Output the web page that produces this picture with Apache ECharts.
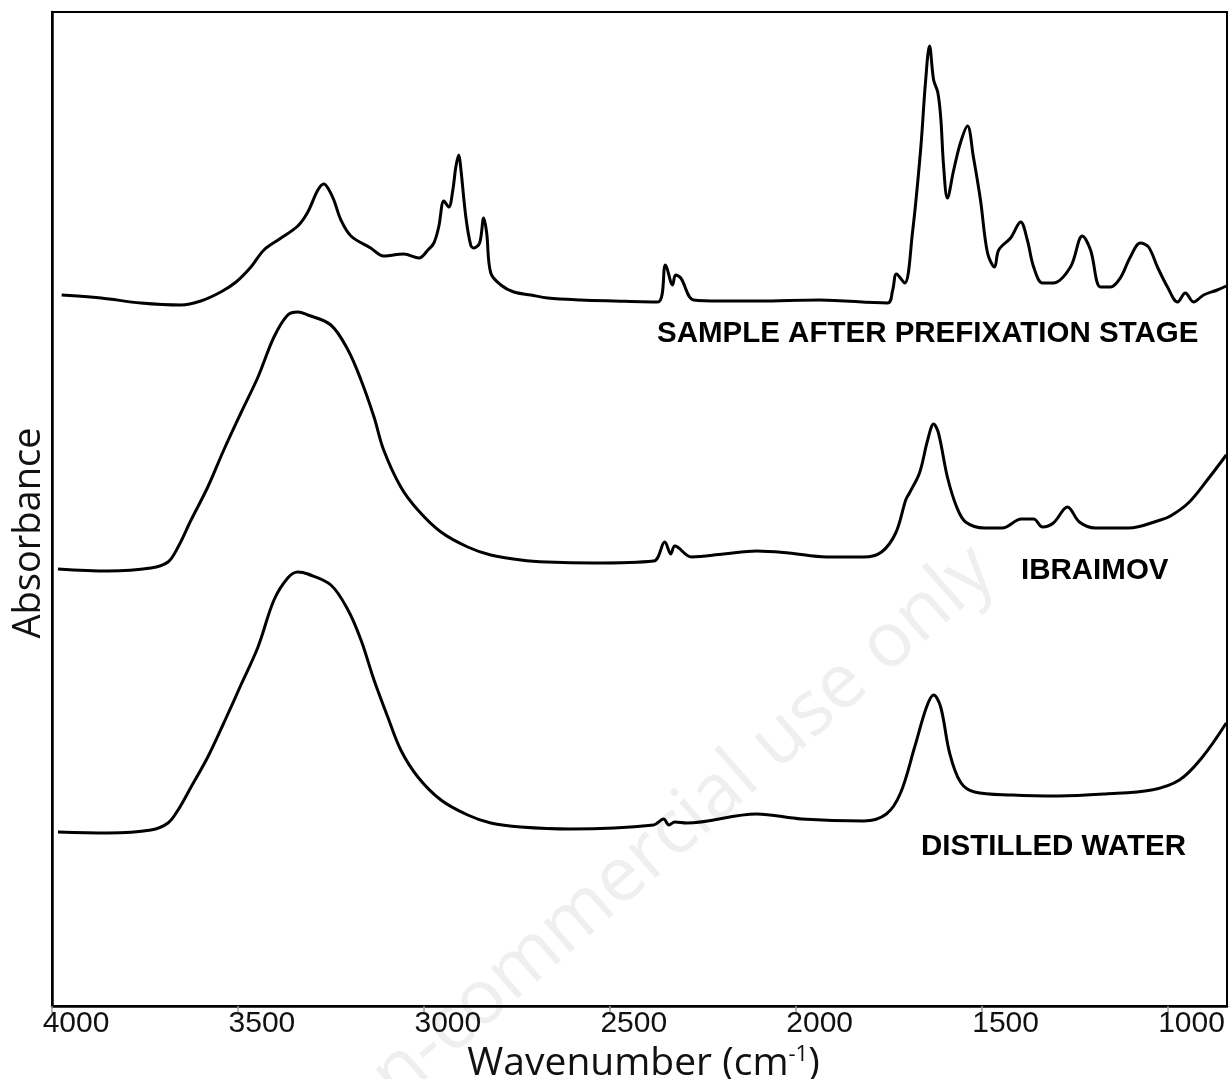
<!DOCTYPE html>
<html>
<head>
<meta charset="utf-8">
<title>FTIR spectra</title>
<script src="https://cdn.jsdelivr.net/npm/echarts@6/dist/echarts.min.js"></script>
<style>
  html, body { margin: 0; padding: 0; background: #fff; }
  #chart { width: 1229px; height: 1079px; }
</style>
</head>
<body>
<div id="chart"></div>
<script>
// wavenumber ticks (cm-1)
var xTicks = [1000, 1500, 2000, 2500, 3000, 3500, 4000];
var seriesNames = ['SAMPLE AFTER PREFIXATION STAGE', 'IBRAIMOV', 'DISTILLED WATER'];

// [wavenumber, absorbance (offset, a.u.)]
var sampleSpectrum = [
  [3974, 7.11], [3868, 7.08], [3761, 7.03], [3653, 7.01], [3600, 7.05], [3546, 7.14],
  [3505, 7.24], [3465, 7.39], [3430, 7.56], [3384, 7.68], [3339, 7.80], [3312, 7.94],
  [3285, 8.16], [3269, 8.22], [3258, 8.18], [3242, 8.06], [3223, 7.86], [3196, 7.70],
  [3143, 7.58], [3108, 7.50], [3054, 7.52], [3013, 7.48], [2989, 7.56], [2973, 7.63],
  [2960, 7.79], [2946, 8.05], [2933, 7.99], [2922, 8.16], [2914, 8.39], [2906, 8.51],
  [2901, 8.39], [2887, 7.89], [2874, 7.61], [2866, 7.58], [2850, 7.63], [2839, 7.88],
  [2831, 7.73], [2820, 7.33], [2793, 7.21], [2758, 7.14], [2712, 7.11], [2667, 7.08],
  [2578, 7.06], [2489, 7.05], [2371, 7.04], [2350, 7.41], [2331, 7.21], [2323, 7.31],
  [2309, 7.28], [2274, 7.06], [2202, 7.05], [2100, 7.05], [1936, 7.06], [1753, 7.03],
  [1739, 7.16], [1729, 7.32], [1707, 7.23], [1686, 7.73], [1664, 8.56], [1651, 9.23],
  [1640, 9.60], [1629, 9.26], [1618, 9.14], [1610, 8.89], [1602, 8.39], [1592, 8.08],
  [1575, 8.36], [1557, 8.63], [1538, 8.80], [1522, 8.49], [1503, 8.06], [1484, 7.53],
  [1465, 7.39], [1454, 7.56], [1422, 7.68], [1395, 7.84], [1377, 7.66], [1360, 7.39],
  [1336, 7.23], [1307, 7.23], [1261, 7.39], [1229, 7.70], [1207, 7.56], [1180, 7.19],
  [1153, 7.19], [1127, 7.28], [1100, 7.49], [1073, 7.63], [1051, 7.59], [1027, 7.39],
  [1000, 7.19], [973, 7.04], [952, 7.13], [930, 7.04], [903, 7.11], [866, 7.16], [842, 7.20]
];

var ibraimovSpectrum = [
  [3984, 4.37], [3849, 4.35], [3734, 4.38], [3688, 4.44], [3661, 4.59], [3626, 4.86],
  [3581, 5.19], [3538, 5.56], [3492, 5.93], [3446, 6.29], [3403, 6.69], [3366, 6.91],
  [3339, 6.94], [3312, 6.91], [3250, 6.81], [3204, 6.56], [3169, 6.26], [3134, 5.89],
  [3108, 5.56], [3062, 5.19], [3016, 4.96], [2954, 4.74], [2882, 4.59], [2820, 4.51],
  [2739, 4.46], [2669, 4.44], [2543, 4.43], [2382, 4.45], [2352, 4.64], [2336, 4.52],
  [2325, 4.60], [2280, 4.49], [2194, 4.52], [2105, 4.55], [2019, 4.53], [1917, 4.49],
  [1817, 4.49], [1769, 4.54], [1731, 4.73], [1704, 5.06], [1694, 5.13], [1667, 5.33],
  [1645, 5.66], [1629, 5.82], [1616, 5.73], [1592, 5.29], [1567, 4.99], [1543, 4.84],
  [1492, 4.78], [1444, 4.78], [1393, 4.87], [1360, 4.87], [1336, 4.79], [1307, 4.83],
  [1269, 4.99], [1237, 4.84], [1194, 4.78], [1105, 4.78], [1019, 4.86], [992, 4.90],
  [944, 5.03], [893, 5.26], [842, 5.51]
];

var waterSpectrum = [
  [3984, 1.74], [3849, 1.73], [3734, 1.76], [3688, 1.83], [3661, 1.96], [3626, 2.19],
  [3581, 2.49], [3538, 2.83], [3492, 3.21], [3446, 3.59], [3403, 4.06], [3366, 4.28],
  [3339, 4.34], [3312, 4.32], [3250, 4.21], [3204, 3.96], [3169, 3.66], [3134, 3.26],
  [3097, 2.89], [3062, 2.56], [3016, 2.29], [2954, 2.06], [2882, 1.91], [2820, 1.83],
  [2739, 1.79], [2605, 1.77], [2382, 1.81], [2355, 1.87], [2341, 1.81], [2325, 1.84],
  [2293, 1.83], [2105, 1.92], [1984, 1.87], [1817, 1.85], [1756, 1.92], [1718, 2.13],
  [1680, 2.59], [1648, 2.99], [1629, 3.11], [1610, 2.99], [1586, 2.53], [1557, 2.24],
  [1519, 2.14], [1417, 2.11], [1293, 2.10], [1167, 2.12], [1043, 2.16], [968, 2.26],
  [906, 2.49], [842, 2.83]
];

var chart = echarts.init(document.getElementById('chart'));

function spectrum(name, data) {
  return {
    name: name,
    type: 'line',
    data: data,
    showSymbol: false,
    smooth: 0.35,
    lineStyle: { color: '#000', width: 3 },
    silent: true
  };
}

var labelFont = 'bold 29.5px "Liberation Sans", Arial, sans-serif';
var titleFont = '"Open Sans", sans-serif';

chart.setOption({
  animation: false,
  backgroundColor: '#fff',
  grid: {
    left: 52, right: 2, top: 12, bottom: 73,
    outerBoundsMode: 'none',
    containLabel: false,
    show: true, borderColor: '#000', borderWidth: 2
  },
  xAxis: {
    type: 'value',
    min: 840,
    max: 4000,
    inverse: true,
    axisLine: { onZero: false, lineStyle: { color: '#000', width: 2.5 } },
    axisTick: { customValues: xTicks, length: 7, lineStyle: { color: '#999', width: 1.5 } },
    axisLabel: {
      customValues: xTicks,
      formatter: function (v) { return String(v); },
      color: '#111',
      fontSize: 30,
      fontFamily: '"Liberation Sans", Arial, sans-serif',
      margin: 3,
      padding: [0, 0, 0, 48],
      hideOverlap: false
    },
    splitLine: { show: false },
    name: 'Wavenumber (cm{sup|-1})',
    nameLocation: 'middle',
    nameGap: 29,
    nameTextStyle: {
      color: '#111',
      fontSize: 39,
      fontFamily: titleFont,
      padding: [0, 0, 0, 8],
      rich: {
        sup: { fontSize: 22, fontFamily: titleFont, color: '#111', verticalAlign: 'top' }
      }
    }
  },
  yAxis: {
    type: 'value',
    min: 0,
    max: 9.94,
    axisLine: { show: true, lineStyle: { color: '#000', width: 2.5 } },
    axisTick: { show: false },
    axisLabel: { show: false },
    splitLine: { show: false }
  },
  graphic: [
    {
      type: 'text', x: 645, y: 858, rotation: 0.72, z: -10, silent: true,
      style: {
        text: 'Non-commercial use only', fill: '#efefef',
        font: '76px ' + titleFont, align: 'center', verticalAlign: 'middle'
      }
    },
    {
      type: 'text', x: 29, y: 533, rotation: Math.PI / 2, silent: true,
      style: {
        text: 'Absorbance', fill: '#111',
        font: '38px ' + titleFont, align: 'center', verticalAlign: 'middle'
      }
    },
    { type: 'text', x: 657, y: 334, style: { text: seriesNames[0], font: labelFont, fill: '#000', verticalAlign: 'middle' } },
    { type: 'text', x: 1021, y: 571, style: { text: seriesNames[1], font: labelFont, fill: '#000', verticalAlign: 'middle' } },
    { type: 'text', x: 921, y: 847, style: { text: seriesNames[2], font: labelFont, fill: '#000', verticalAlign: 'middle' } }
  ],
  series: [
    spectrum(seriesNames[0], sampleSpectrum),
    spectrum(seriesNames[1], ibraimovSpectrum),
    spectrum(seriesNames[2], waterSpectrum)
  ]
});
</script>
</body>
</html>
